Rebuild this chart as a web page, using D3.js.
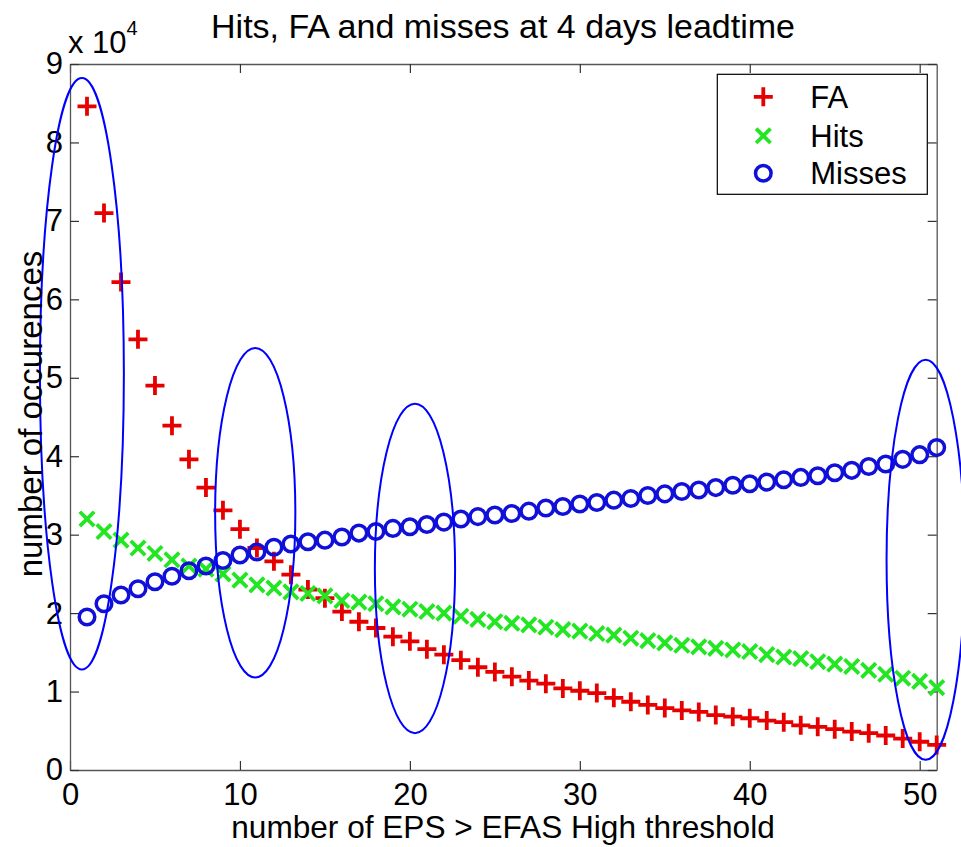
<!DOCTYPE html>
<html>
<head>
<meta charset="utf-8">
<script src="https://cdn.jsdelivr.net/npm/d3@7"></script>
<style>
  body { margin: 0; background: #fff; }
  svg text { font-family: "Liberation Sans", Arial, Helvetica, sans-serif; fill: #000; }
</style>
</head>
<body>
<svg id="chart" width="961" height="847"></svg>
<script>
// number of EPS members above the EFAS High threshold
const threshold = [1, 2, 3, 4, 5, 6, 7, 8, 9, 10, 11, 12, 13, 14, 15, 16, 17, 18, 19, 20,
  21, 22, 23, 24, 25, 26, 27, 28, 29, 30, 31, 32, 33, 34, 35, 36, 37, 38, 39, 40,
  41, 42, 43, 44, 45, 46, 47, 48, 49, 50, 51];

// occurrences, in units of 10^4
const fa = [8.46, 7.10, 6.22, 5.49, 4.90, 4.39, 3.96, 3.60, 3.31, 3.07,
  2.83, 2.66, 2.49, 2.30, 2.19, 2.02, 1.89, 1.81, 1.70, 1.64,
  1.54, 1.47, 1.40, 1.31, 1.25, 1.19, 1.14, 1.10, 1.04, 1.01,
  0.98, 0.92, 0.87, 0.83, 0.79, 0.76, 0.74, 0.70, 0.68, 0.66,
  0.63, 0.61, 0.57, 0.55, 0.52, 0.49, 0.47, 0.44, 0.40, 0.36, 0.32];
const hits = [3.20, 3.04, 2.93, 2.83, 2.76, 2.68, 2.60, 2.56, 2.50, 2.42,
  2.36, 2.32, 2.27, 2.25, 2.22, 2.16, 2.14, 2.12, 2.08, 2.05,
  2.02, 2.00, 1.96, 1.92, 1.89, 1.87, 1.85, 1.82, 1.79, 1.77,
  1.74, 1.72, 1.68, 1.65, 1.62, 1.59, 1.57, 1.55, 1.53, 1.51,
  1.47, 1.44, 1.42, 1.38, 1.35, 1.32, 1.27, 1.22, 1.17, 1.13, 1.05];
const misses = [1.95, 2.12, 2.23, 2.31, 2.40, 2.47, 2.54, 2.60, 2.67, 2.74,
  2.78, 2.84, 2.88, 2.91, 2.93, 2.97, 3.02, 3.04, 3.08, 3.10,
  3.13, 3.16, 3.20, 3.23, 3.25, 3.27, 3.30, 3.34, 3.36, 3.39,
  3.41, 3.44, 3.46, 3.50, 3.52, 3.55, 3.57, 3.60, 3.63, 3.65,
  3.67, 3.70, 3.73, 3.75, 3.79, 3.82, 3.87, 3.90, 3.96, 4.02, 4.11];

const xTicks = [0, 10, 20, 30, 40, 50];
const yTicks = [0, 1, 2, 3, 4, 5, 6, 7, 8, 9];

// hand-drawn ellipses, in data units (centre x, centre y, radius x, radius y)
const ellipseCx = [0.7, 10.9, 20.3, 50.35];
const ellipseCy = [5.05, 3.28, 2.57, 2.68];
const ellipseRx = [2.47, 2.36, 2.36, 2.3];
const ellipseRy = [3.77, 2.10, 2.10, 2.55];

const seriesNames = ['FA', 'Hits', 'Misses'];
const seriesValues = [fa, hits, misses];

const colors = { FA: '#e60000', Hits: '#22e622', Misses: '#1010d8' };
const plotLeft = 70, plotRight = 936.7, plotTop = 64, plotBottom = 770;

const svg = d3.select('#chart');
const x = d3.scaleLinear().domain([0, 51]).range([plotLeft, plotRight]);
const y = d3.scaleLinear().domain([0, 9]).range([plotBottom, plotTop]);

// plot box
svg.append('rect')
  .attr('x', plotLeft).attr('y', plotTop)
  .attr('width', plotRight - plotLeft).attr('height', plotBottom - plotTop)
  .attr('fill', '#fff');

function styleAxis(g, showLabels) {
  g.select('.domain').attr('stroke', '#555').attr('stroke-width', 1.3);
  g.selectAll('.tick line').attr('stroke', '#333').attr('stroke-width', 1.2);
  g.selectAll('.tick text')
    .style('font-size', '31px')
    .style('display', showLabels ? null : 'none');
}

svg.append('g')
  .attr('transform', `translate(0,${plotBottom})`)
  .call(d3.axisBottom(x).tickValues(xTicks).tickSizeInner(-9).tickSizeOuter(0).tickPadding(13))
  .call(g => styleAxis(g, true));
svg.append('g')
  .attr('transform', `translate(0,${plotTop})`)
  .call(d3.axisTop(x).tickValues(xTicks).tickSizeInner(-9).tickSizeOuter(0))
  .call(g => styleAxis(g, false));
svg.append('g')
  .attr('transform', `translate(${plotLeft},0)`)
  .call(d3.axisLeft(y).tickValues(yTicks).tickSizeInner(-9).tickSizeOuter(0).tickPadding(7))
  .call(g => styleAxis(g, true));
svg.append('g')
  .attr('transform', `translate(${plotRight},0)`)
  .call(d3.axisRight(y).tickValues(yTicks).tickSizeInner(-9).tickSizeOuter(0))
  .call(g => styleAxis(g, false));

// markers
function marker(sel, name, size) {
  const c = colors[name];
  if (name === 'FA') {
    const h = size / 2;
    sel.append('path').attr('d', `M${-h},0H${h}M0,${-h}V${h}`)
      .attr('stroke', c).attr('stroke-width', 3.8).attr('fill', 'none');
  } else if (name === 'Hits') {
    const h = size * 0.38;
    sel.append('path').attr('d', `M${-h},${-h}L${h},${h}M${-h},${h}L${h},${-h}`)
      .attr('stroke', c).attr('stroke-width', 3.8).attr('fill', 'none');
  } else {
    sel.append('circle').attr('r', size * 0.41)
      .attr('stroke', c).attr('stroke-width', 3.5).attr('fill', 'none');
  }
}

seriesNames.forEach((name, si) => {
  const g = svg.append('g').attr('class', `series-${name}`);
  g.selectAll('g.pt')
    .data(seriesValues[si].map((v, i) => ({ t: threshold[i], v: v })))
    .enter().append('g')
    .attr('class', 'pt')
    .attr('transform', d => `translate(${x(d.t)},${y(d.v)})`)
    .each(function () { marker(d3.select(this), name, 19); });
});

// ellipse annotations (not clipped to the axes)
svg.append('g').selectAll('ellipse')
  .data(ellipseCx.map((cx, i) => ({ cx: cx, cy: ellipseCy[i], rx: ellipseRx[i], ry: ellipseRy[i] })))
  .enter().append('ellipse')
  .attr('cx', d => x(d.cx))
  .attr('cy', d => y(d.cy))
  .attr('rx', d => x(d.rx) - x(0))
  .attr('ry', d => y(0) - y(d.ry))
  .attr('fill', 'none')
  .attr('stroke', '#0000ff')
  .attr('stroke-width', 2);

// legend
const legend = svg.append('g').attr('transform', 'translate(717.3,74.3)');
legend.append('rect')
  .attr('width', 210).attr('height', 120)
  .attr('fill', '#fff').attr('stroke', '#000').attr('stroke-width', 1.2);
const legendRows = [22.5, 61.5, 99];
seriesNames.forEach((name, i) => {
  const row = legend.append('g').attr('transform', `translate(46,${legendRows[i]})`);
  marker(row, name, 19);
  row.append('text').attr('x', 47).attr('y', 11).style('font-size', '31px').text(name);
});

// titles
svg.append('text')
  .attr('x', 503).attr('y', 38)
  .attr('text-anchor', 'middle')
  .style('font-size', '34px')
  .text('Hits, FA and misses at 4 days leadtime');

svg.append('text')
  .attr('x', 503).attr('y', 838)
  .attr('text-anchor', 'middle')
  .style('font-size', '31.6px')
  .text('number of EPS > EFAS High threshold');

svg.append('text')
  .attr('transform', 'translate(42,414) rotate(-90)')
  .attr('text-anchor', 'middle')
  .style('font-size', '33px')
  .text('number of occurences');

// exponent label
const expo = svg.append('text').attr('x', 68).attr('y', 53).style('font-size', '31px');
expo.append('tspan').text('x 10');
expo.append('tspan').attr('dy', -18).style('font-size', '20px').text('4');
</script>
</body>
</html>
